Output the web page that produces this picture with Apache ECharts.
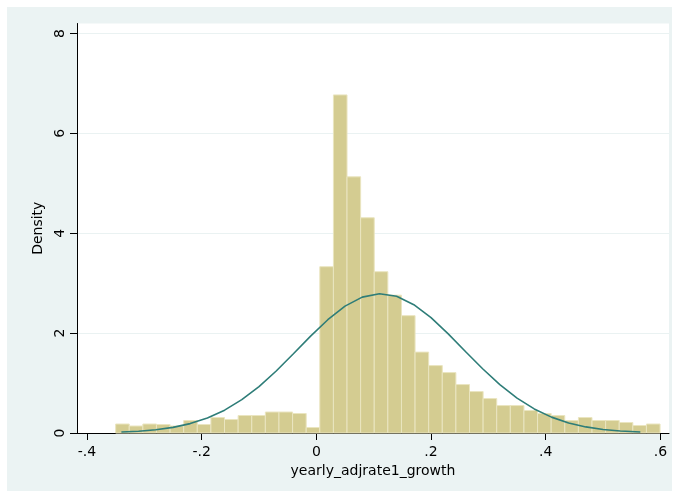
<!DOCTYPE html>
<html><head><meta charset="utf-8">
<script src="https://cdn.jsdelivr.net/npm/echarts@6/dist/echarts.min.js"></script>
<style>html,body{margin:0;padding:0;background:#fff}#c{width:676px;height:498px}</style>
</head><body><div id="c"></div>
<script>
// Histogram bins (density scale)
const binStart = -0.35;
const binWidth = 0.023735;
const density = [
  0.18, 0.14, 0.18, 0.17, 0.14, 0.25, 0.17, 0.31, 0.27, 0.35,
  0.35, 0.42, 0.42, 0.39, 0.11, 3.33, 6.77, 5.13, 4.31, 3.23,
  2.76, 2.35, 1.62, 1.35, 1.21, 0.97, 0.83, 0.69, 0.55, 0.55,
  0.45, 0.39, 0.35, 0.25, 0.31, 0.25, 0.25, 0.21, 0.15, 0.18
];
// Normal density overlay
const curveX = [-0.34,-0.31,-0.28,-0.25,-0.22,-0.19,-0.16,-0.13,-0.10,-0.07,-0.04,-0.01,
  0.02,0.05,0.08,0.11,0.14,0.17,0.20,0.23,0.26,0.29,0.32,0.35,0.38,0.41,0.44,0.47,0.50,0.53,0.565];
const curveY = [0.019,0.036,0.065,0.113,0.188,0.300,0.457,0.667,0.930,1.241,1.586,1.939,
  2.268,2.540,2.721,2.790,2.737,2.570,2.309,1.985,1.633,1.286,0.969,0.698,0.482,0.318,0.201,0.122,0.070,0.039,0.02];
const xTicks = [-0.4, -0.2, 0, 0.2, 0.4, 0.6];
const yTicks = [0, 2, 4, 6, 8];
const xTitle = 'yearly_adjrate1_growth';
const yTitle = 'Density';

const bins = density.map((d, i) => [binStart + i * binWidth, binStart + (i + 1) * binWidth, d]);
const curve = curveX.map((x, i) => [x, curveY[i]]);

const FONT = 'DejaVu Sans';
const chart = echarts.init(document.getElementById('c'), null, {renderer: 'canvas'});
function fmt(v) {
  if (Math.abs(v) < 1e-9) return '0';
  const s = String(Math.abs(Math.round(v * 10) / 10)).replace(/^0/, '');
  return (v < 0 ? '-' : '') + s;
}
chart.setOption({
  animation: false,
  backgroundColor: '#ffffff',
  graphic: [
    {type: 'rect', z: -10, shape: {x: 7, y: 7, width: 665, height: 484}, style: {fill: '#EBF3F3'}}
  ],
  grid: {left: 77, right: 7, top: 23.5, bottom: 65, show: true, backgroundColor: '#ffffff', borderWidth: 0},
  xAxis: {
    type: 'value', min: -0.4174, max: 0.615,
    name: xTitle, nameLocation: 'middle', nameGap: 25,
    nameTextStyle: {fontFamily: FONT, fontSize: 14, color: '#000'},
    axisLine: {show: true, onZero: false, lineStyle: {color: '#000', width: 1}},
    axisTick: {show: true, length: 7, lineStyle: {color: '#000'}, customValues: xTicks},
    axisLabel: {customValues: xTicks, formatter: fmt, fontFamily: FONT, fontSize: 14, color: '#000', margin: 12},
    splitLine: {show: false}
  },
  yAxis: {
    type: 'value', min: 0, max: 8.2,
    name: yTitle, nameLocation: 'middle', nameGap: 32, nameRotate: 90,
    nameTextStyle: {fontFamily: FONT, fontSize: 14, color: '#000'},
    axisLine: {show: true, onZero: false, lineStyle: {color: '#000', width: 1}},
    axisTick: {show: true, length: 7, lineStyle: {color: '#000'}, customValues: yTicks},
    axisLabel: {customValues: yTicks, rotate: 90, fontFamily: FONT, fontSize: 14, color: '#000', margin: 10},
    splitLine: {show: true, lineStyle: {color: '#EAF2F2', width: 1}}
  },
  series: [
    {
      type: 'custom',
      data: bins,
      encode: {x: [0, 1], y: 2},
      renderItem: function (params, api) {
        const p0 = api.coord([api.value(0), 0]);
        const p1 = api.coord([api.value(1), api.value(2)]);
        return {
          type: 'rect',
          shape: {x: p0[0], y: p1[1], width: p1[0] - p0[0], height: p0[1] - p1[1]},
          style: {fill: '#D4CC91', stroke: '#EAE5C0', lineWidth: 1}
        };
      },
      z: 2
    },
    {
      type: 'line', data: curve, showSymbol: false, smooth: false,
      lineStyle: {color: '#2E7D78', width: 1.6}, z: 3
    }
  ]
});
</script>
</body></html>
